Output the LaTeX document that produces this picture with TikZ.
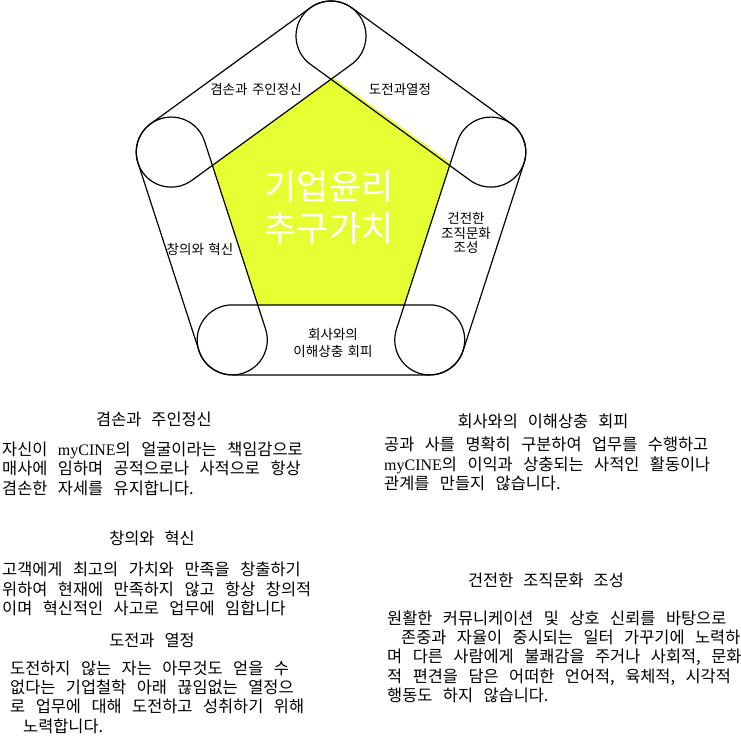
\documentclass[tikz,border=0pt]{standalone}
\usepackage{fontspec}
\setmainfont{Liberation Serif}
\newfontfamily\kr{Noto Sans CJK KR}
\usetikzlibrary{calc}
\definecolor{ethicyellow}{RGB}{230,255,51}
\newcommand\latn[1]{{\rmfamily\fontsize{16}{19.3}\selectfont #1}}
\newcommand\trackside[3]{%
  \begin{scope}[shift={(#1)},rotate=#2]
    \draw[track] (0,35) -- (#3,35) arc[start angle=90,end angle=-90,radius=35]
      -- (0,-35) arc[start angle=270,end angle=90,radius=35] -- cycle;
  \end{scope}}
\begin{document}
\begin{tikzpicture}[x=1pt,y=1pt,
  track/.style={draw=black, line width=1.2pt},
  lbl/.style={font=\kr\fontsize{13.5}{14.5}\selectfont, execute at begin node={\spaceskip=4.5pt\relax}, align=center, inner sep=0pt},
  ttl/.style={font=\kr\fontsize{16.4}{19.3}\selectfont, execute at begin node={\spaceskip=10pt\relax}, inner sep=0pt, anchor=base},
  body/.style={font=\kr\fontsize{16.4}{19.3}\selectfont, execute at begin node={\spaceskip=10.5pt\relax}, inner sep=0pt, align=left, anchor=base west},
  core/.style={font=\kr\fontsize{35}{42}\selectfont, text=white, align=center, inner sep=0pt}
]
\useasboundingbox (0,0) rectangle (741,-737);
\fill[white] (0,0) rectangle (741,-737);

% vertices of the outer pentagon (circle centres)
\coordinate (V0) at (331,-36);
\coordinate (V1) at (490.8,-152.1);
\coordinate (V2) at (429.7,-339.9);
\coordinate (V3) at (232.3,-339.9);
\coordinate (V4) at (171.2,-152.1);

% inner pentagon
\coordinate (P0) at (331,-79);
\coordinate (P1) at (449.9,-165.4);
\coordinate (P2) at (404.5,-305.1);
\coordinate (P3) at (257.5,-305.1);
\coordinate (P4) at (212.1,-165.4);
\fill[ethicyellow] (P0) -- (P1) -- (P2) -- (P3) -- (P4) -- cycle;
\draw[ethicyellow, line width=2pt] ($(P0)+(0.9,1.2)$) -- ($(P1)+(0.9,1.2)$);

\trackside{V4}{36}{197.5}
\trackside{V0}{-36}{197.5}
\trackside{V1}{-108}{197.5}
\trackside{V2}{180}{197.5}
\trackside{V3}{108}{197.5}

\node[core] (core) at (329,-207) {기업윤리\\추구가치};

\node[lbl] (l1) at (256,-89) {겸손과 주인정신};
\node[lbl] (l2) at (400,-89) {도전과열정};
\node[lbl] (l3) at (466,-233) {건전한\\조직문화\\조성};
\node[lbl] (l4) at (200,-249) {창의와 혁신};
\node[lbl, font=\kr\fontsize{13.5}{17}\selectfont] (l5) at (333,-342.5) {회사와의\\이해상충 회피};

% text blocks (anchor = baseline of the last line)
\node[ttl] (t1) at (154,-425) {겸손과 주인정신};
\node[body] (b1) at (2,-494) {자신이 \latn{myCINE}의 얼굴이라는 책임감으로\\매사에 임하며 공적으로나 사적으로 항상\\겸손한 자세를 유지합니다.};

\node[ttl] (t2) at (543,-427) {회사와의 이해상충 회피};
\node[body] (b2) at (384,-489.5) {공과 사를 명확히 구분하여 업무를 수행하고\\\latn{myCINE}의 이익과 상충되는 사적인 활동이나\\관계를 만들지 않습니다.};

\node[ttl] (t3) at (152,-544) {창의와 혁신};
\node[body] (b3) at (2,-614.5) {고객에게 최고의 가치와 만족을 창출하기\\위하여 현재에 만족하지 않고 항상 창의적\\이며 혁신적인 사고로 업무에 임합니다};

\node[ttl] (t4) at (152,-646) {도전과 열정};
\node[body] (b4) at (10,-732) {도전하지 않는 자는 아무것도 얻을 수\\없다는 기업철학 아래 끊임없는 열정으\\로 업무에 대해 도전하고 성취하기 위해\\\hspace*{13pt}노력합니다.};

\node[ttl] (t5) at (546,-586) {건전한 조직문화 조성};
\node[body] (b5) at (387,-701.5) {원활한 커뮤니케이션 및 상호 신뢰를 바탕으로\\\hspace*{14pt}존중과 자율이 중시되는 일터 가꾸기에 노력하\\며 다른 사람에게 불쾌감을 주거나 사회적, 문화\\적 편견을 담은 어떠한 언어적, 육체적, 시각적\\행동도 하지 않습니다.};
\end{tikzpicture}
\end{document}
